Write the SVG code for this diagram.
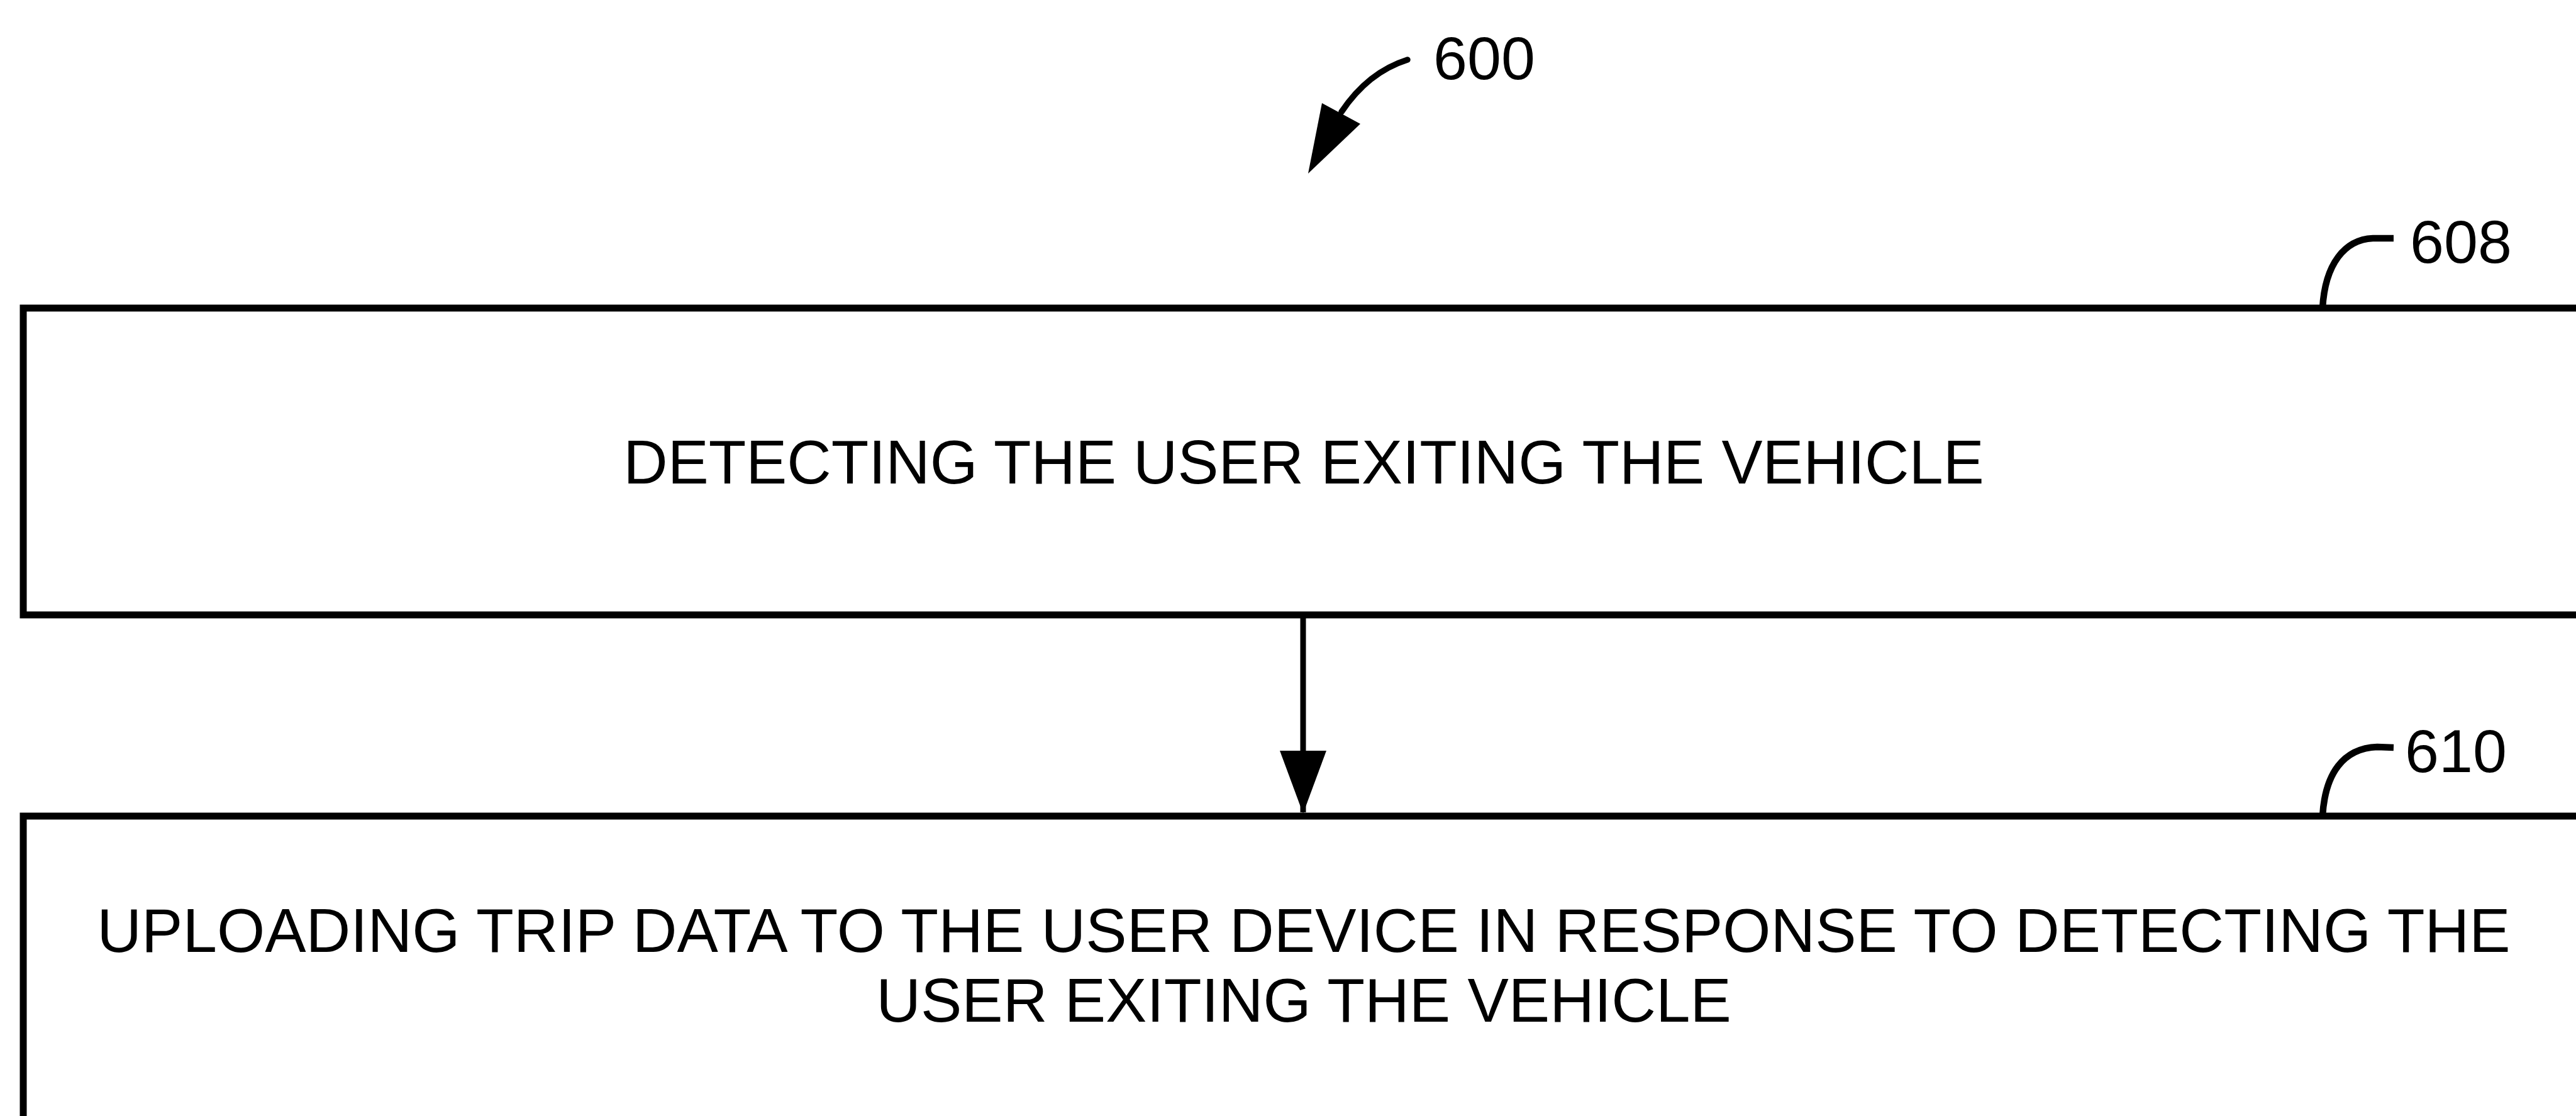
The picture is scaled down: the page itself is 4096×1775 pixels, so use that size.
<svg xmlns="http://www.w3.org/2000/svg" width="4096" height="1775" viewBox="0 0 4096 1775">
<style>
.box{fill:#fff;stroke:#000;stroke-width:11}
.t{font-family:"Liberation Sans",Arial,sans-serif;font-size:97.5px;fill:#000;text-anchor:middle}
.t2{font-size:98px}
.lbl{font-family:"Liberation Sans",Arial,sans-serif;font-size:97px;fill:#000}
.lead{fill:none;stroke:#000;stroke-width:10.5}
.conn{fill:none;stroke:#000;stroke-width:9}
</style>
<defs>
<marker id="ah" markerUnits="userSpaceOnUse" markerWidth="100" markerHeight="74" refX="98" refY="37" orient="auto" viewBox="0 0 100 74">
<polygon points="0,0 100,37 0,74" fill="#000"/>
</marker>
</defs>
<rect width="4096" height="1775" fill="#fff"/>
<g id="ref600">
<path d="M2238,95 Q2175,115 2133,178" fill="none" stroke="#000" stroke-width="9.5" stroke-linecap="round"/>
<polygon points="2102,164 2163,197 2080,276" fill="#000"/>
<text class="lbl" x="2279" y="126">600</text>
</g>
<g id="node608">
<rect class="box" x="37" y="490" width="4200" height="488"/>
<text class="t" x="2073" y="769">DETECTING THE USER EXITING THE VEHICLE</text>
<path class="lead" d="M3806,379 L3773,379 C3728,381 3697,420 3693,490"/>
<text class="lbl" x="3832" y="418">608</text>
</g>
<g id="node610">
<rect class="box" x="37" y="1298" width="4200" height="600"/>
<text class="t t2" x="2073" y="1514">UPLOADING TRIP DATA TO THE USER DEVICE IN RESPONSE TO DETECTING THE</text>
<text class="t t2" x="2073" y="1625">USER EXITING THE VEHICLE</text>
<path class="lead" d="M3806,1189 L3780,1188 C3726,1190 3697,1230 3693,1298"/>
<text class="lbl" x="3824" y="1228">610</text>
</g>
<g id="connectors">
<line class="conn" x1="2072" y1="983" x2="2072" y2="1292" marker-end="url(#ah)"/>
</g>
</svg>
